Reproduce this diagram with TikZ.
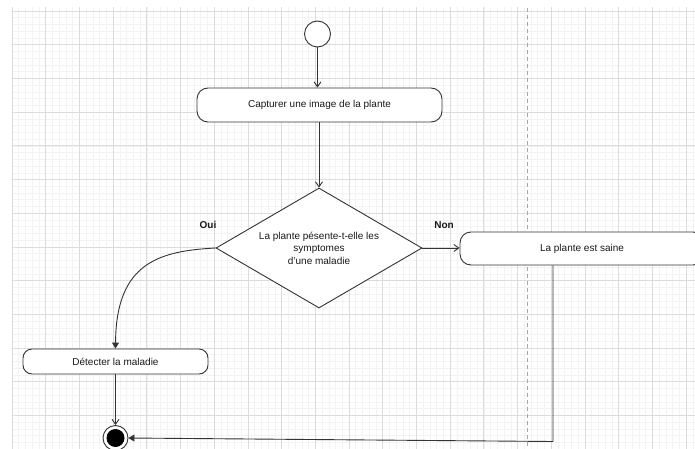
\documentclass[tikz,border=0pt]{standalone}
\usepackage{fontspec}
\setmainfont{Liberation Sans}
\usetikzlibrary{shapes.geometric,arrows.meta}
\definecolor{minorc}{HTML}{F3F3F3}
\definecolor{majorc}{HTML}{DCDCDC}
\definecolor{linec}{HTML}{333333}
\begin{document}
\begin{tikzpicture}[x=1pt,y=-1pt,
  every node/.style={font=\fontsize{10}{12.5}\selectfont, text=black!90},
  actbox/.style={draw=linec, line width=0.9pt, fill=white, rounded corners=11pt, inner sep=0pt},
  decbox/.style={draw=linec, line width=0.9pt, fill=white, diamond, aspect=1.72, inner sep=0pt, minimum width=206pt, minimum height=120pt, align=center},
  conn/.style={draw=linec, line width=0.9pt},
  openarr/.style={conn, -{Straight Barb[length=5pt,width=7pt]}},
  fillarr/.style={conn, -{Triangle[length=6pt,width=7pt]}},
  lbl/.style={font=\fontsize{10}{12}\selectfont\bfseries}
]
\useasboundingbox (0,0) rectangle (695,449);
\fill[white] (0,0) rectangle (695,449);
% grid
\begin{scope}
\clip (12,8) rectangle (695,449);
\foreach \i in {0,...,102} {
  \draw[minorc, line width=0.5pt] (12+\i*6.74,0) -- (12+\i*6.74,449);
}
\foreach \i in {-1,...,66} {
  \draw[minorc, line width=0.5pt] (0,11+\i*6.74) -- (695,11+\i*6.74);
}
\foreach \i in {0,...,20} {
  \draw[majorc, line width=0.7pt] (12+\i*33.7,0) -- (12+\i*33.7,449);
}
\foreach \i in {0,...,13} {
  \draw[majorc, line width=0.7pt] (0,11+\i*33.7) -- (695,11+\i*33.7);
}
\end{scope}
\draw[black!35, line width=0.8pt, dash pattern=on 4pt off 3pt] (527,8) -- (527,449);

% nodes
\node[circle, draw=linec, line width=0.9pt, fill=white, minimum size=26pt, inner sep=0pt] (start) at (317.5,34) {};
\node[actbox, minimum width=245pt, minimum height=34pt] (cap) at (319.5,105) {Capturer une image de la plante};
\node[decbox] (dec) at (319,248) {La plante pésente-t-elle les\\symptomes\\ d'une maladie};
\node[actbox, minimum width=244pt, minimum height=33pt] (saine) at (582,248.5) {La plante est saine};
\node[actbox, minimum width=185pt, minimum height=25pt, rounded corners=9pt] (det) at (115.5,361.5) {Détecter la maladie};
\node[circle, draw=linec, line width=0.9pt, fill=white, minimum size=25pt, inner sep=0pt] (end) at (115.5,438) {};
\node[circle, fill=black, minimum size=18pt, inner sep=0pt] (endin) at (end) {};

\node[lbl] (oui) at (208,225) {Oui};
\node[lbl] (non) at (444,225) {Non};

% connectors
\draw[openarr] (start.south) -- (start.south |- cap.north);
\draw[openarr] (cap.south -| dec.north) -- (dec.north);
\draw[openarr] (dec.east) -- (saine.west |- dec.east);
\draw[fillarr] (dec.west) .. controls (160,251) and (116,262) .. (det.north);
\draw[openarr] (det.south) -- (end.north);
\coordinate (corner) at (553,441.5);
\draw[fillarr] ([xshift=-29pt]saine.south) -- (corner) -- (end.east);
\end{tikzpicture}
\end{document}
